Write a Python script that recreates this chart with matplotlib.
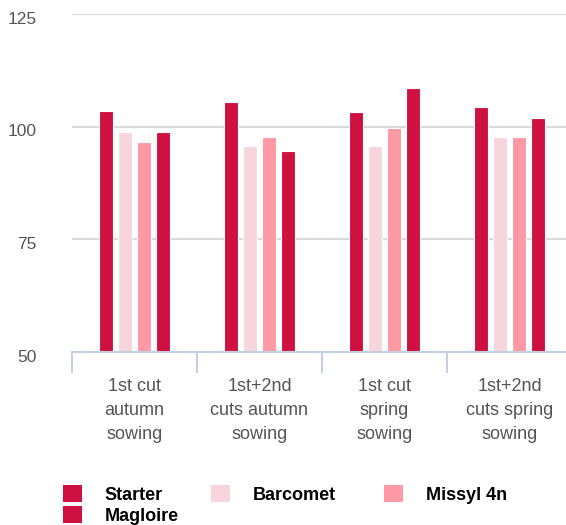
import numpy as np
import matplotlib.pyplot as plt
from matplotlib.patches import Patch
from matplotlib.transforms import ScaledTranslation

plt.rcParams['font.family'] = ['Liberation Sans', 'DejaVu Sans']

# datos
categorias = ['1st cut\nautumn\nsowing', '1st+2nd\ncuts autumn\nsowing',
              '1st cut\nspring\nsowing', '1st+2nd\ncuts spring\nsowing']
series = ['Starter', 'Barcomet', 'Missyl 4n', 'Magloire']
starter = [103.4, 105.4, 103.3, 104.3]
barcomet = [98.8, 95.7, 95.7, 97.7]
missyl = [96.7, 97.7, 99.8, 97.7]
magloire = [98.8, 94.6, 108.5, 101.9]
yticks = [50, 75, 100, 125]

colores = ['#cf1141', '#f6d6dc', '#ff99a5', '#cf1141']
valores = [starter, barcomet, missyl, magloire]

W, H = 566, 525
fig = plt.figure(figsize=(W / 100, H / 100), dpi=100)

abajo = (H - 352) / H
alto = (352 - 14) / H

ax = fig.add_axes([72 / W, abajo, 500 / W, alto])
x = np.arange(len(categorias))
paso = 0.15
ancho = 0.112
for j, (vals, c) in enumerate(zip(valores, colores)):
    ax.bar(x + (j - 1.5) * paso, np.array(vals) - 50, bottom=50, width=ancho,
           color=c, edgecolor='white', linewidth=0.8, zorder=3)

ax.set_xlim(-0.5, 3.5)
ax.set_ylim(50, 125)
ax.set_yticks(yticks)
ax.grid(axis='y', color='#d9d9d9', linewidth=1.5, zorder=0)
for k in ['top', 'left', 'right']:
    ax.spines[k].set_visible(False)
ax.spines['bottom'].set_color('#c3d0e0')
ax.spines['bottom'].set_linewidth(1.5)
ax.spines['bottom'].set_zorder(4)
ax.tick_params(axis='y', length=0, pad=25.5, labelsize=12.5, labelcolor='#555555')
bajar = ScaledTranslation(0, -3.5 / 100, fig.dpi_scale_trans)
for t in ax.get_yticklabels():
    t.set_transform(t.get_transform() + bajar)

# separadores de categorias y etiquetas
ax.set_xticks(x - 0.5)
ax.set_xticklabels([])
ax.tick_params(axis='x', which='major', length=15, width=1.5, color='#c3d0e0')
ax.set_xticks(x, minor=True)
ax.set_xticklabels(categorias, minor=True, fontsize=13, color='#555555')
ax.tick_params(axis='x', which='minor', length=0, pad=19)
for t in ax.get_xticklabels(minor=True):
    t.set_linespacing(1.54)

# leyenda
fs = 13
handles = [Patch(facecolor=c) for c in colores]
fig.legend(handles[:3], series[:3], loc='center left',
           bbox_to_anchor=(63 / W, (H - 494.5) / H), ncol=3,
           frameon=False, borderpad=0, borderaxespad=0,
           handlelength=1.05, handleheight=1.05, handletextpad=1.27,
           columnspacing=2.66, prop={'weight': 'bold', 'size': fs})
fig.legend(handles[3:], series[3:], loc='center left',
           bbox_to_anchor=(63 / W, (H - 515.5) / H),
           frameon=False, borderpad=0, borderaxespad=0,
           handlelength=1.05, handleheight=1.05, handletextpad=1.27,
           prop={'weight': 'bold', 'size': fs})

fig.savefig('out.png', dpi=100)
